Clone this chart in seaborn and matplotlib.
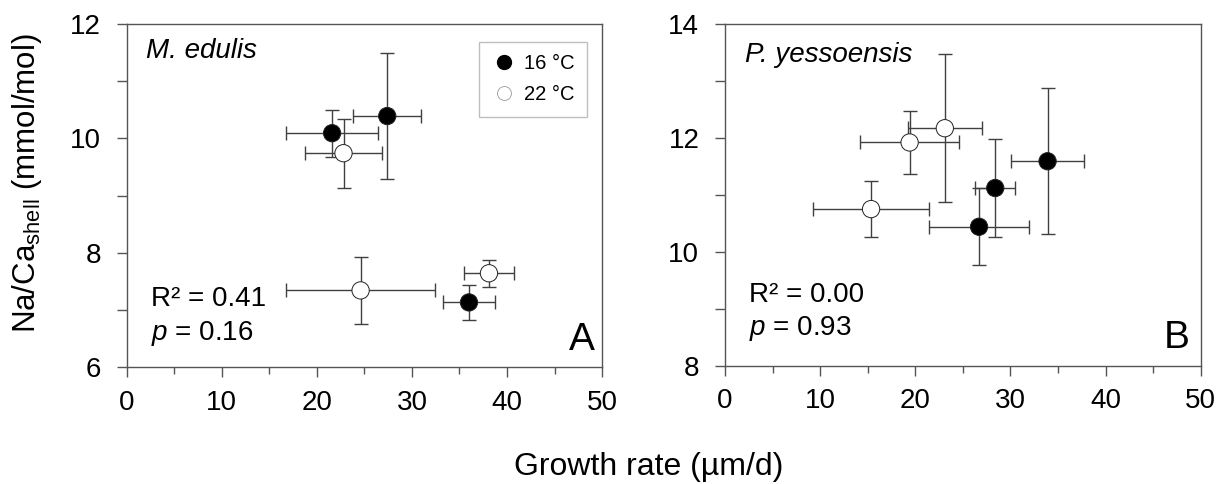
import numpy as np
import pandas as pd
import matplotlib
matplotlib.use("Agg")
import matplotlib.pyplot as plt
from matplotlib.ticker import MultipleLocator
from matplotlib.lines import Line2D
import seaborn as sns

# ---- data ----
# Panel A: M. edulis
a_temp = ["16 °C", "16 °C", "16 °C", "22 °C", "22 °C", "22 °C"]
a_growth = [21.6, 27.4, 36.0, 22.8, 24.6, 38.1]
a_growth_err = [4.8, 3.6, 2.75, 4.0, 7.8, 2.6]
a_naca = [10.09, 10.39, 7.13, 9.74, 7.34, 7.64]
a_naca_err = [0.41, 1.1, 0.31, 0.6, 0.59, 0.24]

# Panel B: P. yessoensis
b_temp = ["16 °C", "16 °C", "16 °C", "22 °C", "22 °C", "22 °C"]
b_growth = [28.4, 26.7, 33.9, 23.1, 19.4, 15.35]
b_growth_err = [2.1, 5.25, 3.85, 3.9, 5.2, 6.1]
b_naca = [11.12, 10.44, 11.59, 12.17, 11.92, 10.75]
b_naca_err = [0.86, 0.68, 1.28, 1.3, 0.55, 0.49]

x_ticks = [0, 10, 20, 30, 40, 50]
a_yticks = [6, 8, 10, 12]
b_yticks = [8, 10, 12, 14]
species = ["M. edulis", "P. yessoensis"]
stats = [("0.41", "0.16"), ("0.00", "0.93")]
panel_letters = ["A", "B"]

sns.set_style("white")
plt.rcParams["font.family"] = ["Liberation Sans", "DejaVu Sans"]
plt.rcParams["mathtext.fontset"] = "custom"
plt.rcParams["mathtext.rm"] = "Liberation Sans"
plt.rcParams["mathtext.it"] = "Liberation Sans:italic"
plt.rcParams["text.color"] = "black"

fig = plt.figure(figsize=(12.27, 4.84), dpi=100)
axA = fig.add_axes([0.1033, 0.2417, 0.3874, 0.7087])
axB = fig.add_axes([0.5909, 0.2444, 0.3877, 0.7060])

palette = {"16 °C": "black", "22 °C": "white"}
spine_col = "#555555"
err_col = "#404040"

datasets = [
    (axA, a_temp, a_growth, a_growth_err, a_naca, a_naca_err, a_yticks),
    (axB, b_temp, b_growth, b_growth_err, b_naca, b_naca_err, b_yticks),
]

# text positions (axes fraction)
species_pos = [(0.0406, 0.900), (0.042, 0.889)]
r2_pos = [(0.0505, 0.178), (0.051, 0.187)]
p_pos = [(0.0505, 0.079), (0.051, 0.090)]
letter_pos = [(0.985, 0.0496), (0.977, 0.051)]

for i, (ax, temp, gx, gxe, ny, nye, yt) in enumerate(datasets):
    df = pd.DataFrame({"temp": temp, "growth": gx, "naca": ny,
                       "gerr": gxe, "nerr": nye})
    ax.errorbar(df["growth"], df["naca"], xerr=df["gerr"], yerr=df["nerr"],
                fmt="none", ecolor=err_col, elinewidth=1.0, capsize=5,
                capthick=1.0, zorder=2)
    sns.scatterplot(data=df, x="growth", y="naca", hue="temp", palette=palette,
                    edgecolor="#222222", linewidth=0.7, s=155, ax=ax,
                    legend=False, zorder=3)
    ax.set_xlim(0, 50)
    ax.set_ylim(yt[0], yt[-1])
    ax.set_xticks(x_ticks)
    ax.set_yticks(yt)
    ax.xaxis.set_minor_locator(MultipleLocator(5))
    ax.yaxis.set_minor_locator(MultipleLocator(1))
    ax.tick_params(axis="both", which="both", direction="out", width=1,
                   color=spine_col, labelsize=20, labelcolor="black",
                   bottom=True, left=True, top=False, right=False)
    ax.tick_params(axis="x", which="major", length=7.2, pad=9)
    ax.tick_params(axis="x", which="minor", length=5)
    ax.tick_params(axis="y", which="major", length=7.5, pad=11)
    ax.tick_params(axis="y", which="minor", length=7)
    for s in ax.spines.values():
        s.set_color(spine_col)
        s.set_linewidth(1)
        s.set_visible(True)
    ax.set_xlabel("")
    ax.set_ylabel("")
    ax.text(*species_pos[i], species[i], transform=ax.transAxes, fontsize=20,
            style="italic", ha="left", va="baseline")
    ax.text(*r2_pos[i], "R² = " + stats[i][0], transform=ax.transAxes,
            fontsize=20, ha="left", va="baseline")
    ax.text(*p_pos[i], "$p$ = " + stats[i][1], transform=ax.transAxes,
            fontsize=20, ha="left", va="baseline")
    ax.text(*letter_pos[i], panel_letters[i], transform=ax.transAxes,
            fontsize=28, ha="right", va="baseline")

handles = [
    Line2D([], [], marker="o", linestyle="none", markersize=10,
           markerfacecolor="black", markeredgecolor="black", label="16 °C"),
    Line2D([], [], marker="o", linestyle="none", markersize=10,
           markerfacecolor="white", markeredgecolor="#999999",
           markeredgewidth=0.6, label="22 °C"),
]
leg = axA.legend(handles=handles, loc="upper right",
                 bbox_to_anchor=(0.968, 0.9466), borderaxespad=0,
                 fontsize=14.5, frameon=True, fancybox=False,
                 edgecolor="#b0b0b0", handletextpad=0.35, borderpad=0.6,
                 labelspacing=0.6, handlelength=1.3)
leg.get_frame().set_linewidth(1)

fig.text(35 / 1227, 1 - 183.5 / 484, "Na/Ca$_{\\mathrm{shell}}$ (mmol/mol)",
         rotation=90, rotation_mode="anchor", ha="center", va="baseline",
         fontsize=22.5)
fig.text(649 / 1227, 1 - 475 / 484, "Growth rate (µm/d)", ha="center",
         va="baseline", fontsize=23)

fig.savefig("out.png", dpi=100)
